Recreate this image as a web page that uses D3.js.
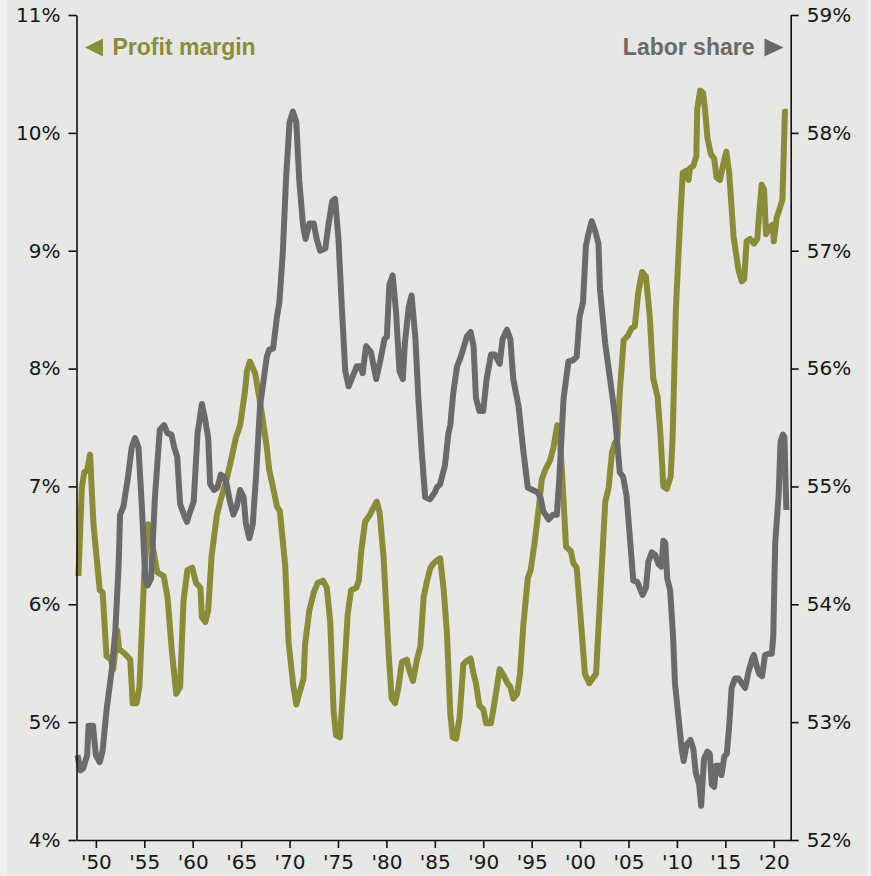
<!DOCTYPE html>
<html>
<head>
<meta charset="utf-8">
<script src="https://cdn.jsdelivr.net/npm/d3@7"></script>
<style>
  body { margin: 0; background: #eeeeed; }
  .tick text { font-family: "DejaVu Sans", sans-serif; font-size: 20px; fill: #151515; }
  .tick line, .domain { stroke: #111; stroke-width: 1.6px; }
  .legend { font-family: "Liberation Sans", Arial, sans-serif; font-weight: bold; font-size: 23px; }
</style>
</head>
<body>
<div id="chart"></div>
<script>
// [year, %]
var profitMargin = [
  [1948.2,6.24],[1948.55,6.99],[1948.8,7.12],[1949.1,7.14],[1949.4,7.27],[1949.75,6.68],[1950.4,6.12],[1950.7,6.10],
  [1951.1,5.56],[1951.55,5.53],[1951.8,5.45],[1952.2,5.78],[1952.4,5.62],[1953.0,5.58],[1953.55,5.53],[1953.8,5.16],
  [1954.2,5.16],[1954.5,5.30],[1955.0,6.26],[1955.4,6.68],[1955.8,6.52],[1956.35,6.27],[1957.0,6.24],[1957.4,6.06],
  [1957.85,5.60],[1958.3,5.24],[1958.7,5.30],[1959.05,6.03],[1959.45,6.29],[1959.95,6.31],[1960.35,6.18],[1960.8,6.14],
  [1960.95,5.89],[1961.3,5.85],[1961.6,5.95],[1961.95,6.41],[1962.5,6.76],[1962.9,6.89],[1963.5,7.06],[1963.95,7.22],
  [1964.45,7.41],[1964.9,7.52],[1965.4,7.81],[1965.6,7.98],[1965.9,8.06],[1966.45,7.96],[1967.1,7.64],[1967.65,7.33],
  [1967.9,7.14],[1968.3,6.99],[1968.7,6.83],[1969.0,6.79],[1969.55,6.33],[1969.9,5.68],[1970.4,5.30],[1970.7,5.15],
  [1971.0,5.24],[1971.45,5.37],[1971.6,5.66],[1972.05,5.95],[1972.5,6.10],[1972.9,6.18],[1973.45,6.20],[1973.85,6.14],
  [1974.2,5.85],[1974.55,5.09],[1974.8,4.89],[1975.2,4.87],[1975.6,5.37],[1976.0,5.91],[1976.35,6.12],[1976.9,6.14],
  [1977.15,6.20],[1977.4,6.45],[1977.8,6.70],[1978.3,6.76],[1978.6,6.81],[1979.0,6.87],[1979.3,6.78],[1979.7,6.41],
  [1980.25,5.56],[1980.55,5.20],[1980.9,5.16],[1981.25,5.30],[1981.6,5.51],[1982.1,5.53],[1982.4,5.43],[1982.75,5.35],
  [1983.15,5.53],[1983.5,5.64],[1983.85,6.06],[1984.2,6.20],[1984.55,6.31],[1984.9,6.35],[1985.2,6.37],[1985.55,6.39],
  [1985.9,6.14],[1986.25,5.76],[1986.6,5.07],[1986.85,4.87],[1987.2,4.86],[1987.55,5.03],[1987.95,5.49],[1988.3,5.52],
  [1988.7,5.54],[1989.0,5.41],[1989.25,5.33],[1989.6,5.14],[1990.0,5.11],[1990.3,4.99],[1990.8,4.99],[1991.15,5.16],
  [1991.7,5.45],[1992.15,5.39],[1992.5,5.33],[1992.8,5.30],[1993.1,5.20],[1993.5,5.24],[1993.8,5.41],[1994.15,5.83],
  [1994.6,6.22],[1994.9,6.29],[1995.3,6.52],[1995.7,6.79],[1996.05,7.06],[1996.4,7.14],[1996.9,7.22],[1997.25,7.33],
  [1997.65,7.52],[1997.9,7.45],[1998.2,7.02],[1998.55,6.49],[1999.05,6.45],[1999.3,6.35],[1999.65,6.31],[2000.0,5.95],
  [2000.5,5.41],[2000.95,5.33],[2001.3,5.37],[2001.65,5.41],[2002.0,5.95],[2002.6,6.87],[2002.95,6.99],[2003.3,7.29],
  [2003.6,7.37],[2003.85,7.40],[2004.1,7.80],[2004.5,8.24],[2004.95,8.28],[2005.3,8.34],[2005.65,8.36],[2006.0,8.64],
  [2006.4,8.82],[2006.8,8.78],[2007.2,8.44],[2007.55,7.92],[2008.0,7.76],[2008.3,7.44],[2008.6,7.00],[2008.95,6.98],
  [2009.35,7.08],[2009.55,7.40],[2009.9,8.52],[2010.3,9.20],[2010.6,9.66],[2011.0,9.68],[2011.2,9.60],[2011.35,9.70],
  [2011.7,9.72],[2012.0,9.80],[2012.1,10.20],[2012.4,10.36],[2012.7,10.34],[2012.9,10.20],[2013.15,9.96],[2013.5,9.82],
  [2013.85,9.78],[2014.1,9.62],[2014.45,9.60],[2014.8,9.74],[2015.1,9.84],[2015.4,9.66],[2015.85,9.12],[2016.35,8.84],
  [2016.7,8.74],[2016.95,8.76],[2017.2,9.08],[2017.55,9.10],[2017.95,9.06],[2018.3,9.10],[2018.5,9.32],[2018.75,9.56],
  [2019.0,9.52],[2019.2,9.14],[2019.55,9.20],[2019.9,9.22],[2020.0,9.08],[2020.3,9.28],[2020.7,9.38],[2020.9,9.44],
  [2021.15,10.18],[2021.45,10.18]
];

var laborShare = [
  [1948.1,52.72],[1948.4,52.59],[1948.7,52.61],[1949.1,52.72],[1949.25,52.97],[1949.7,52.97],[1950.0,52.72],[1950.4,52.66],
  [1950.7,52.76],[1951.1,53.10],[1951.65,53.45],[1952.0,53.76],[1952.35,54.33],[1952.5,54.76],[1952.85,54.83],[1953.35,55.10],
  [1953.7,55.33],[1954.05,55.41],[1954.4,55.33],[1954.75,54.83],[1955.1,54.22],[1955.35,54.16],[1955.7,54.22],[1956.1,54.91],
  [1956.6,55.48],[1957.05,55.52],[1957.4,55.45],[1957.8,55.44],[1958.1,55.33],[1958.4,55.25],[1958.7,54.85],[1959.05,54.77],
  [1959.4,54.70],[1959.75,54.79],[1960.1,54.87],[1960.5,55.45],[1960.95,55.70],[1961.3,55.56],[1961.6,55.41],[1961.8,55.02],
  [1962.2,54.97],[1962.55,54.99],[1962.9,55.10],[1963.25,55.08],[1963.5,55.02],[1963.85,54.87],[1964.2,54.76],[1964.55,54.83],
  [1964.9,54.97],[1965.25,54.91],[1965.5,54.68],[1965.85,54.56],[1966.2,54.68],[1966.55,55.10],[1966.95,55.68],[1967.65,56.10],
  [1967.9,56.16],[1968.3,56.17],[1968.7,56.44],[1968.95,56.56],[1969.3,56.98],[1969.65,57.63],[1970.0,58.09],[1970.35,58.18],
  [1970.7,58.09],[1971.0,57.60],[1971.4,57.21],[1971.65,57.10],[1972.05,57.23],[1972.5,57.23],[1972.8,57.10],[1973.15,57.00],
  [1973.7,57.02],[1974.0,57.21],[1974.4,57.42],[1974.7,57.44],[1975.05,57.10],[1975.4,56.52],[1975.75,55.98],[1976.1,55.85],
  [1976.5,55.93],[1976.95,56.02],[1977.3,56.02],[1977.55,55.96],[1977.9,56.19],[1978.4,56.14],[1978.95,55.91],[1979.35,56.06],
  [1979.8,56.25],[1980.05,56.27],[1980.3,56.71],[1980.65,56.79],[1981.0,56.48],[1981.35,55.98],[1981.7,55.91],[1981.9,56.21],
  [1982.3,56.52],[1982.6,56.62],[1983.0,56.25],[1983.3,55.75],[1983.65,55.29],[1984.0,54.91],[1984.5,54.89],[1985.0,54.95],
  [1985.2,54.99],[1985.55,55.02],[1986.05,55.18],[1986.4,55.45],[1986.6,55.52],[1986.9,55.79],[1987.3,56.02],[1987.6,56.08],
  [1987.95,56.17],[1988.3,56.27],[1988.7,56.31],[1989.0,56.19],[1989.25,55.75],[1989.6,55.64],[1990.0,55.64],[1990.35,55.91],
  [1990.8,56.12],[1991.2,56.12],[1991.7,56.04],[1992.0,56.25],[1992.45,56.33],[1992.8,56.25],[1993.1,55.91],[1993.65,55.68],
  [1994.1,55.33],[1994.6,54.99],[1995.1,54.97],[1995.6,54.95],[1995.9,54.91],[1996.2,54.79],[1996.75,54.72],[1997.2,54.76],
  [1997.6,54.76],[1997.85,55.06],[1998.3,55.75],[1998.8,56.06],[1999.25,56.07],[1999.65,56.10],[1999.95,56.44],[2000.3,56.56],
  [2000.6,57.04],[2000.85,57.14],[2001.2,57.25],[2001.55,57.17],[2001.9,57.06],[2002.05,56.68],[2002.6,56.21],[2003.1,55.91],
  [2003.6,55.60],[2004.1,55.12],[2004.45,55.08],[2004.8,54.92],[2005.15,54.56],[2005.5,54.20],[2005.9,54.19],[2006.2,54.13],
  [2006.45,54.08],[2006.8,54.14],[2007.05,54.36],[2007.4,54.44],[2007.75,54.42],[2008.1,54.34],[2008.4,54.32],[2008.6,54.54],
  [2008.8,54.52],[2009.0,54.22],[2009.3,54.12],[2009.6,53.73],[2009.8,53.33],[2010.2,53.01],[2010.5,52.77],[2010.7,52.67],
  [2011.0,52.81],[2011.4,52.85],[2011.7,52.77],[2011.95,52.57],[2012.3,52.47],[2012.5,52.29],[2012.8,52.69],[2013.15,52.75],
  [2013.4,52.73],[2013.6,52.47],[2013.85,52.45],[2014.05,52.63],[2014.4,52.63],[2014.6,52.55],[2014.9,52.71],[2015.15,52.73],
  [2015.4,52.97],[2015.65,53.29],[2016.0,53.37],[2016.35,53.37],[2016.7,53.33],[2017.05,53.29],[2017.4,53.43],[2017.75,53.53],
  [2017.95,53.57],[2018.25,53.47],[2018.5,53.41],[2018.8,53.39],[2019.1,53.57],[2019.45,53.58],[2019.8,53.58],[2019.95,53.73],
  [2020.15,54.52],[2020.5,54.92],[2020.7,55.38],[2020.95,55.44],[2021.1,55.42],[2021.3,54.80]
];

var yearTicks = [1950,1955,1960,1965,1970,1975,1980,1985,1990,1995,2000,2005,2010,2015,2020];
var leftTicks = [4,5,6,7,8,9,10,11];
var rightTicks = [52,53,54,55,56,57,58,59];

var width = 871, height = 876;
var margin = {top: 15, left: 76.5, right: 80.3, bottom: 36};
var w = width - margin.left - margin.right;
var h = height - margin.top - margin.bottom;

var olive = "#898d3a", grey = "#6a6a6a";

var svg = d3.select("#chart").append("svg")
  .attr("width", width)
  .attr("height", height);

svg.append("rect")
  .attr("x", 7).attr("y", 0)
  .attr("width", 859).attr("height", 875)
  .attr("fill", "#e7e7e5");

var g = svg.append("g")
  .attr("transform", "translate(" + margin.left + "," + margin.top + ")");

var x = d3.scaleLinear().domain([1948, 2021.75]).range([0, w]);
var yL = d3.scaleLinear().domain([4, 11]).range([h, 0]);
var yR = d3.scaleLinear().domain([52, 59]).range([h, 0]);

var lineL = d3.line()
  .x(function(d) { return x(d[0]); })
  .y(function(d) { return yL(d[1]); });
var lineR = d3.line()
  .x(function(d) { return x(d[0]); })
  .y(function(d) { return yR(d[1]); });

g.append("path")
  .datum(profitMargin)
  .attr("d", lineL)
  .attr("fill", "none")
  .attr("stroke", olive)
  .attr("stroke-width", 6)
  .attr("stroke-linejoin", "round");

g.append("path")
  .datum(laborShare)
  .attr("d", lineR)
  .attr("fill", "none")
  .attr("stroke", grey)
  .attr("stroke-width", 6)
  .attr("stroke-linejoin", "round");

// axes
g.append("g")
  .call(d3.axisLeft(yL).tickValues(leftTicks).tickSize(8).tickPadding(8).tickSizeOuter(0)
    .tickFormat(function(d) { return d + "%"; }));

g.append("g")
  .attr("transform", "translate(" + w + ",0)")
  .call(d3.axisRight(yR).tickValues(rightTicks).tickSize(8).tickPadding(8).tickSizeOuter(0)
    .tickFormat(function(d) { return d + "%"; }));

g.append("g")
  .attr("transform", "translate(0," + h + ")")
  .call(d3.axisBottom(x).tickValues(yearTicks).tickSize(8).tickPadding(7).tickSizeOuter(0)
    .tickFormat(function(d) { return "'" + String(d).slice(2); }));

g.selectAll(".tick text").attr("fill", "#151515");

// legend labels
svg.append("path")
  .attr("d", "M85,47.5 L103,38.5 L103,56.5 Z")
  .attr("fill", olive);
svg.append("text")
  .attr("class", "legend")
  .attr("x", 112.5)
  .attr("y", 55)
  .attr("fill", olive)
  .text("Profit margin");

svg.append("path")
  .attr("d", "M783.5,47.5 L764.5,38.5 L764.5,56.5 Z")
  .attr("fill", grey);
svg.append("text")
  .attr("class", "legend")
  .attr("x", 754.5)
  .attr("y", 55)
  .attr("text-anchor", "end")
  .attr("fill", grey)
  .text("Labor share");
</script>
</body>
</html>
